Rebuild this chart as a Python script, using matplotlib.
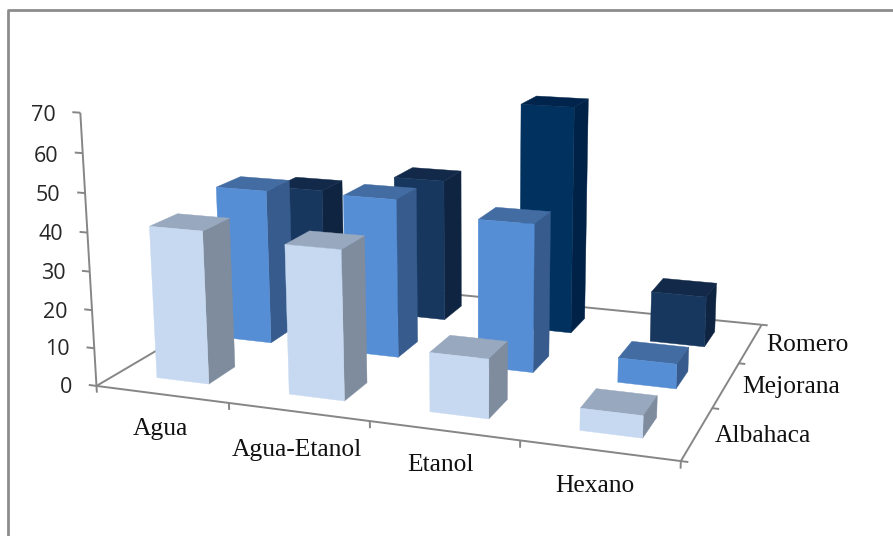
import matplotlib
matplotlib.use("Agg")
import matplotlib.pyplot as plt
from matplotlib.lines import Line2D
from mpl_toolkits.mplot3d import proj3d
from mpl_toolkits.mplot3d.art3d import Poly3DCollection

categories = ['Agua', 'Agua-Etanol', 'Etanol', 'Hexano']
series = ['Albahaca', 'Mejorana', 'Romero']
albahaca = [40, 38.5, 15, 5.5]
mejorana = [42.5, 43, 39.5, 6.5]
romero = [35, 40.5, 63.5, 14]
z_ticks = [0, 10, 20, 30, 40, 50, 60, 70]

# how far below the floor each category label hangs, in z units
CATEGORY_LABEL_DROP = [9.3, 10.0, 8.8, 8.8]

# (front, top, side) per series
ALBAHACA_COLORS = ('#c6d9f1', '#98a8be', '#7f8c9e')
MEJORANA_COLORS = ('#558ed5', '#426ca2', '#365b8c')
ROMERO_COLORS = ('#17375e', '#12294a', '#0f2440')
# the Etanol bar of Romero stands out from the rest of its series
ROMERO_ETANOL_COLORS = ('#00315f', '#00244c', '#002247')

AXIS_COLOR = '#868686'
BAR_WIDTH = 0.4


def add_bar(ax, x, y, height, colors, zorder):
    """Only the three faces seen from the camera are added, drawn back to front by zorder."""
    x0, x1 = x + 0.5 - BAR_WIDTH / 2, x + 0.5 + BAR_WIDTH / 2
    y0, y1 = y + 0.5 - BAR_WIDTH / 2, y + 0.5 + BAR_WIDTH / 2
    front = [(x0, y0, 0), (x1, y0, 0), (x1, y0, height), (x0, y0, height)]
    top = [(x0, y0, height), (x1, y0, height), (x1, y1, height), (x0, y1, height)]
    side = [(x1, y0, 0), (x1, y1, 0), (x1, y1, height), (x1, y0, height)]
    poly = Poly3DCollection([front, top, side], facecolors=list(colors), edgecolors=list(colors),
                            linewidths=0.3, zorder=zorder)
    ax.add_collection3d(poly, autolim=False)


def add_label(ax, x, y, z, text, **kwargs):
    """Places a flat label at the projected position of a 3D point."""
    vx, vy, _ = proj3d.proj_transform(x, y, z, ax.get_proj())
    ax.text2D(vx, vy, text, transform=ax.transData, va='center', **kwargs)


def draw_axes_lines(ax):
    nx, ny = len(categories), len(series)
    line = dict(color=AXIS_COLOR, lw=1.4, zorder=1, solid_capstyle='butt')
    ax.plot([0, nx, nx], [0, 0, ny], [0, 0, 0], **line)
    ax.plot([0, 0, nx], [0, ny, ny], [0, 0, 0], **line)
    ax.plot([0, 0], [0, 0], [0, z_ticks[-1]], **line)

    for z in z_ticks:
        ax.plot([0, -0.06], [0, 0], [z, z], **line)
        add_label(ax, -0.19, 0, z - 1.2, str(z), ha='right', fontsize=15.5,
                  family='Open Sans', color='#262626')
    for i in range(nx + 1):
        ax.plot([i, i], [0, 0], [0, -1.8], **line)
    for j in range(ny + 1):
        ax.plot([nx, nx + 0.045], [j, j], [0, 0], **line)

    for i, label in enumerate(categories):
        add_label(ax, i + 0.48, 0, -CATEGORY_LABEL_DROP[i], label, ha='center', fontsize=18.4,
                  family='Liberation Serif', color='#111111')
    for j, label in enumerate(series):
        add_label(ax, nx + 0.11, j + 0.5, 0, label, ha='left', fontsize=18.4,
                  family='Liberation Serif', color='#111111')


def main():
    fig = plt.figure(figsize=(8.93, 5.36), dpi=100)
    ax = fig.add_axes([72.28 / 893, -65.03 / 536, 728.96 / 893, 728.96 / 536], projection='3d')
    ax.set_xlim(0, len(categories))
    ax.set_ylim(0, len(series))
    ax.set_zlim(0, z_ticks[-1])
    ax.view_init(elev=13.973, azim=-69.854, roll=0.253)
    ax.set_proj_type('persp', focal_length=0.4147)
    ax.set_box_aspect((2.1391, 1.5305, 1.0))
    ax.set_axis_off()
    ax.computed_zorder = False

    draw_axes_lines(ax)

    rows = [(albahaca, ALBAHACA_COLORS), (mejorana, MEJORANA_COLORS), (romero, ROMERO_COLORS)]
    zorder = 10
    for j in reversed(range(len(rows))):
        values, colors = rows[j]
        for i, value in enumerate(values):
            bar_colors = ROMERO_ETANOL_COLORS if values is romero and categories[i] == 'Etanol' else colors
            add_bar(ax, i, j, value, bar_colors, zorder)
            zorder += 1

    # chart frame, only the top and left edges fall inside the figure
    fig.add_artist(Line2D([8 / 893, 8 / 893, 1], [0, 526 / 536, 526 / 536], color='#8c8c8c', lw=2))

    fig.savefig('out.png', dpi=100)


if __name__ == "__main__":
    main()
